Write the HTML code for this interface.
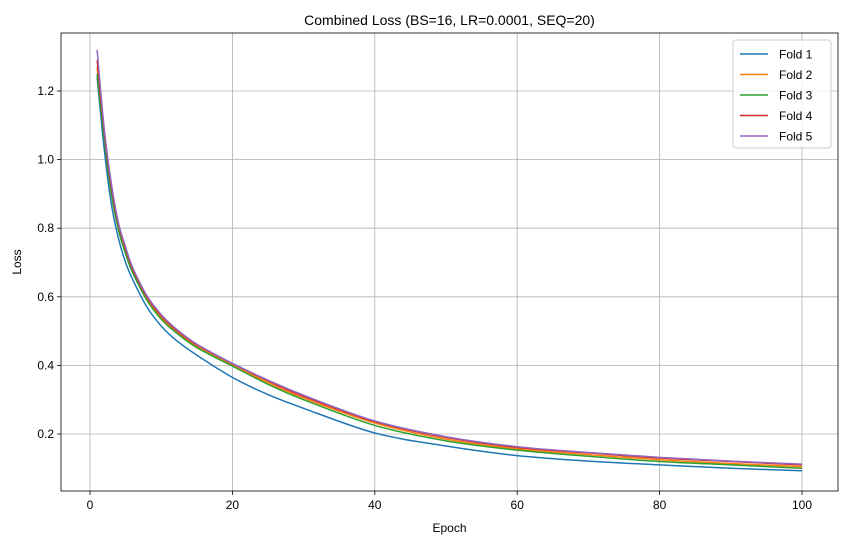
<!DOCTYPE html>
<html><head><meta charset="utf-8"><style>
html,body{margin:0;padding:0;background:#fff;}
svg{display:block;font-family:"Liberation Sans","DejaVu Sans",sans-serif;}
</style></head><body>
<svg id="chart" width="846" height="545" viewBox="0 0 846 545"></svg>
<script>
const epochs = [1,2,3,4,5,6,8,10,12,15,20,25,30,40,50,60,70,80,90,100];
const fold1 = [1.24,1.03,0.87,0.77,0.70,0.65,0.57,0.515,0.475,0.43,0.365,0.315,0.275,0.203,0.165,0.137,0.121,0.110,0.100,0.093];
const fold2 = [1.27,1.07,0.91,0.80,0.73,0.675,0.595,0.54,0.50,0.455,0.40,0.35,0.305,0.232,0.185,0.157,0.140,0.125,0.114,0.105];
const fold3 = [1.25,1.06,0.90,0.795,0.725,0.67,0.59,0.535,0.497,0.452,0.398,0.345,0.30,0.225,0.180,0.153,0.135,0.120,0.110,0.100];
const fold4 = [1.29,1.08,0.92,0.81,0.74,0.68,0.60,0.545,0.505,0.46,0.405,0.355,0.31,0.236,0.19,0.161,0.145,0.130,0.120,0.110];
const fold5 = [1.32,1.09,0.93,0.815,0.745,0.685,0.603,0.548,0.508,0.462,0.406,0.357,0.313,0.238,0.192,0.163,0.146,0.132,0.121,0.112];
const seriesNames = ["Fold 1","Fold 2","Fold 3","Fold 4","Fold 5"];
const seriesColors = ["#1f77b4","#ff7f0e","#2ca02c","#d62728","#9467bd"];
const xTicks = [0,20,40,60,80,100];
const yTicks = [0.2,0.4,0.6,0.8,1.0,1.2];
const yTickLabels = ["0.2","0.4","0.6","0.8","1.0","1.2"];

const L=61,R=838,T=33,B=491;
const xs = v => 90 + (v-0)*(802-90)/100;
const ys = v => 434 + (v-0.2)*(91-434)/1.0;
const NS="http://www.w3.org/2000/svg";
const svg=document.getElementById('chart');
function mk(tag,attrs,parent){const e=document.createElementNS(NS,tag);for(const k in attrs)e.setAttribute(k,attrs[k]);(parent||svg).appendChild(e);return e;}
function smooth(pts){
  let d='M'+pts[0][0]+','+pts[0][1];
  for(let i=0;i<pts.length-1;i++){
    const p0=pts[Math.max(0,i-1)],p1=pts[i],p2=pts[i+1],p3=pts[Math.min(pts.length-1,i+2)];
    const c1x=p1[0]+(p2[0]-p0[0])/6,c1y=p1[1]+(p2[1]-p0[1])/6;
    const c2x=p2[0]-(p3[0]-p1[0])/6,c2y=p2[1]-(p3[1]-p1[1])/6;
    d+=' C'+c1x+','+c1y+' '+c2x+','+c2y+' '+p2[0]+','+p2[1];
  }
  return d;
}

const grid=mk('g',{});


xTicks.forEach(t=>{
  const l=mk('line',{x1:xs(t),x2:xs(t),y1:T,y2:B,stroke:'#b0b0b0','stroke-width':0.8},grid);
  
  
  const tk=mk('line',{x1:xs(t),x2:xs(t),y1:B,y2:B+4,stroke:'#000','stroke-width':0.8});
  
  
  const tx=mk('text',{x:xs(t),y:B+18,'text-anchor':'middle','font-size':12});
  tx.textContent=t;
  
  
});
yTicks.forEach((t,i)=>{
  const l=mk('line',{x1:L,x2:R,y1:ys(t),y2:ys(t),stroke:'#b0b0b0','stroke-width':0.8},grid);
  
  
  const tk=mk('line',{x1:L-4,x2:L,y1:ys(t),y2:ys(t),stroke:'#000','stroke-width':0.8});
  
  
  const tx=mk('text',{x:L-7,y:ys(t)+4,'text-anchor':'end','font-size':12});
  tx.textContent=yTickLabels[i];
  
  
});

const all=[fold1,fold2,fold3,fold4,fold5];
all.forEach((s,i)=>{
  const pts=s.map((v,j)=>[xs(epochs[j]),ys(v)]);
  const p=mk('path',{d:smooth(pts),fill:'none',stroke:seriesColors[i],'stroke-width':1.5,'stroke-linejoin':'round'});
  
  
});

const frame=mk('rect',{x:L,y:T,width:R-L,height:B-T,fill:'none',stroke:'#000','stroke-width':0.8});



const title=mk('text',{x:(L+R)/2,y:25,'text-anchor':'middle','font-size':14});
title.textContent='Combined Loss (BS=16, LR=0.0001, SEQ=20)';


const xl=mk('text',{x:(L+R)/2,y:532,'text-anchor':'middle','font-size':12});
xl.textContent='Epoch';


const yl=mk('text',{x:0,y:0,'text-anchor':'middle','font-size':12,transform:'translate(21,262) rotate(-90)'});
yl.textContent='Loss';



const lg=mk('g',{});


mk('rect',{x:733,y:40,width:98,height:108,rx:3,fill:'#fff','fill-opacity':0.8,stroke:'#ccc','stroke-width':1},lg);
seriesNames.forEach((n,i)=>{
  const y=54+i*20.5;
  const ln=mk('line',{x1:740,x2:768,y1:y,y2:y,stroke:seriesColors[i],'stroke-width':1.5},lg);
  
  
  const t=mk('text',{x:779,y:y+4.5,'font-size':12},lg);
  t.textContent=n;
  
  
});
</script>
</body></html>
